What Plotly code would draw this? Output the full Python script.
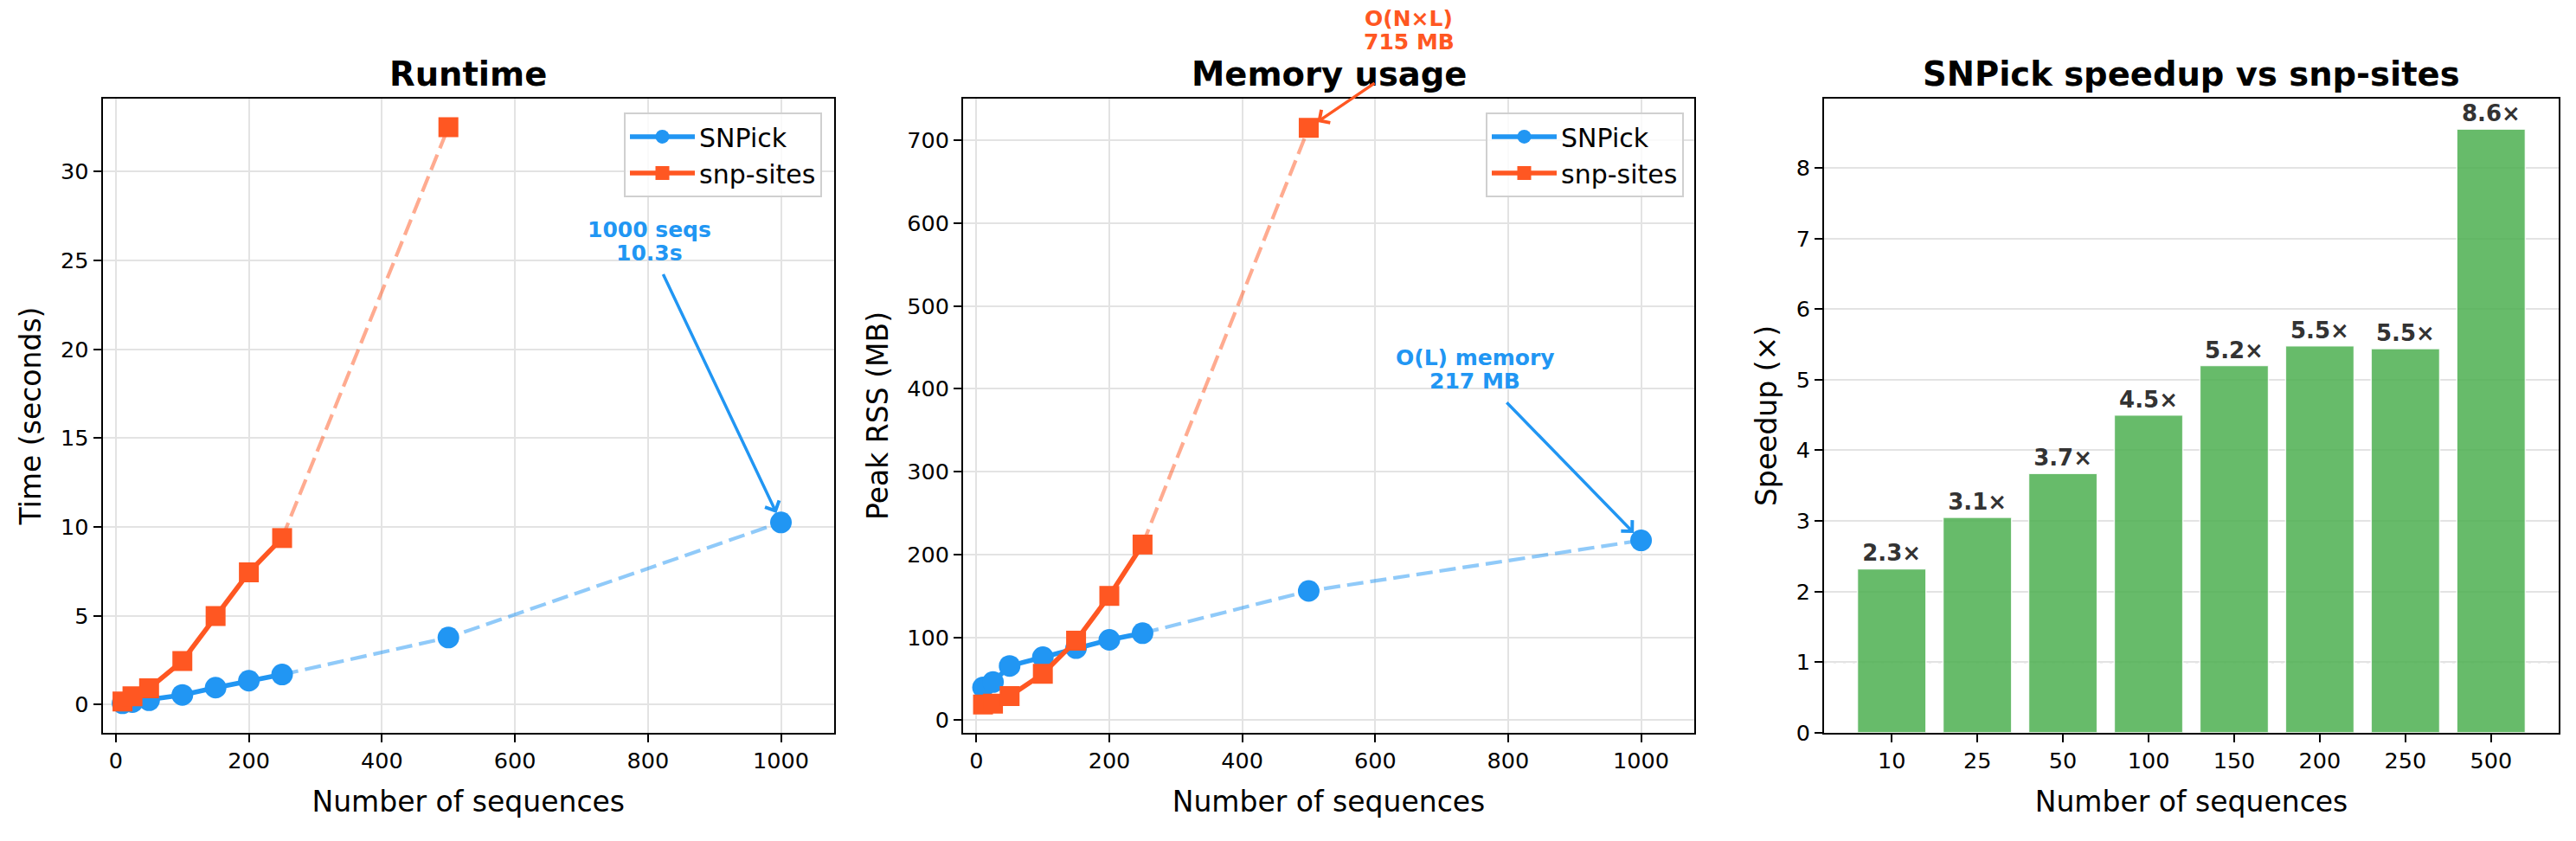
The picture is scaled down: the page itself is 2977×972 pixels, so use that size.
import plotly.graph_objects as go

# ---------------- data ----------------
n_snpick = [10, 25, 50, 100, 150, 200, 250, 500, 1000]
snpick_time = [0.08, 0.15, 0.25, 0.55, 0.96, 1.35, 1.70, 3.78, 10.26]
snpick_mem = [39.5, 46, 65.5, 76, 87, 97, 105, 156, 217]

n_snpsites = [10, 25, 50, 100, 150, 200, 250, 500]
snpsites_time = [0.18, 0.47, 0.92, 2.46, 4.99, 7.45, 9.38, 32.5]
snpsites_mem = [19, 20, 29, 56, 96, 150, 212, 715]

speed_cats = ["10", "25", "50", "100", "150", "200", "250", "500"]
speedup = [2.32, 3.05, 3.67, 4.50, 5.20, 5.48, 5.44, 8.55]
speedup_labels = ["2.3×", "3.1×", "3.7×", "4.5×", "5.2×", "5.5×", "5.5×", "8.6×"]

SOLID_MAX = 250  # measured points (solid); beyond are extrapolated (dashed)

BLUE = "#2196F3"
ORANGE = "#FF5722"
BLUE_L = "rgba(33,150,243,0.5)"
ORANGE_L = "rgba(255,87,34,0.5)"
GREEN = "rgba(76,175,80,0.85)"
FONT = "DejaVu Sans"

W, H = 2977, 972
fig = go.Figure()


def split(xs, ys):
    k = sum(1 for v in xs if v <= SOLID_MAX)
    return xs[:k], ys[:k], xs[k - 1:], ys[k - 1:], xs[k:], ys[k:]


def add_series(xs, ys, color, light, symbol, msize, name, xa, ya, legend):
    sx, sy, dx, dy, mx, my = split(xs, ys)
    fig.add_trace(go.Scatter(x=dx, y=dy, mode="lines", xaxis=xa, yaxis=ya,
                             line=dict(color=light, width=4.2, dash="19px,8px"),
                             showlegend=False, hoverinfo="skip"))
    fig.add_trace(go.Scatter(x=sx, y=sy, mode="lines+markers", name=name, xaxis=xa, yaxis=ya,
                             line=dict(color=color, width=5.6),
                             marker=dict(symbol=symbol, size=msize, color=color, line=dict(width=0)),
                             legend=legend, showlegend=True))
    fig.add_trace(go.Scatter(x=mx, y=my, mode="markers", xaxis=xa, yaxis=ya,
                             marker=dict(symbol=symbol, size=msize, color=color, line=dict(width=0)),
                             showlegend=False))


# Panel 1: runtime
add_series(n_snpick, snpick_time, BLUE, BLUE_L, "circle", 25, "SNPick", "x", "y", "legend")
add_series(n_snpsites, snpsites_time, ORANGE, ORANGE_L, "square", 23, "snp-sites", "x", "y", "legend")
# Panel 2: memory
add_series(n_snpick, snpick_mem, BLUE, BLUE_L, "circle", 25, "SNPick", "x2", "y2", "legend2")
add_series(n_snpsites, snpsites_mem, ORANGE, ORANGE_L, "square", 23, "snp-sites", "x2", "y2", "legend2")

# Panel 3: speedup bars
fig.add_trace(go.Bar(x=speed_cats, y=speedup, xaxis="x3", yaxis="y3", width=0.8,
                     marker=dict(color=GREEN, line=dict(color="rgba(255,255,255,0.85)", width=1.5)),
                     text=speedup_labels, textposition="outside", cliponaxis=False,
                     constraintext="none",
                     textfont=dict(family=FONT, size=26, color="#333333", weight="bold"),
                     showlegend=False))

# ---------------- layout ----------------
px = lambda v: v / W
py = lambda v: 1 - v / H
ydom = [py(860), py(116)]
doms = [[px(118.5), px(964)], [px(1113), px(1958)], [px(2108), px(2957)]]

axis_common = dict(showline=True, mirror=True, linecolor="black", linewidth=2,
                   ticks="outside", ticklen=9, tickwidth=1.6, tickcolor="black",
                   tickfont=dict(family=FONT, size=25.5, color="black"),
                   gridcolor="#e3e3e3", gridwidth=1.5, zeroline=False)
title_font = dict(family=FONT, size=33, color="black")
leg_common = dict(xanchor="right", yanchor="top", bgcolor="rgba(255,255,255,0.8)",
                  bordercolor="#d0d0d0", borderwidth=2, itemwidth=75, tracegroupgap=0,
                  font=dict(family=FONT, size=30, color="black"))

Y1 = [-1.57, 34.1]
Y2 = [-15, 750]
XSTAND = 22
layout = dict(
    width=W, height=H, margin=dict(l=0, r=0, t=0, b=0),
    paper_bgcolor="white", plot_bgcolor="white",
    font=dict(family=FONT, color="black"),
    xaxis=dict(domain=doms[0], anchor="y", range=[-20, 1080], tickvals=[0, 200, 400, 600, 800, 1000],
               title=dict(text="Number of sequences", font=title_font, standoff=XSTAND), **axis_common),
    yaxis=dict(domain=ydom, anchor="x", range=Y1, tickvals=[0, 5, 10, 15, 20, 25, 30],
               title=dict(text="Time (seconds)", font=title_font, standoff=12), **axis_common),
    xaxis2=dict(domain=doms[1], anchor="y2", range=[-20, 1080], tickvals=[0, 200, 400, 600, 800, 1000],
                title=dict(text="Number of sequences", font=title_font, standoff=XSTAND), **axis_common),
    yaxis2=dict(domain=ydom, anchor="x2", range=Y2, tickvals=[0, 100, 200, 300, 400, 500, 600, 700],
                title=dict(text="Peak RSS (MB)", font=title_font, standoff=12), **axis_common),
    xaxis3=dict(domain=doms[2], anchor="y3", type="category", range=[-0.79, 7.79],
                title=dict(text="Number of sequences", font=title_font, standoff=XSTAND),
                **{**axis_common, "showgrid": False}),
    yaxis3=dict(domain=ydom, anchor="x3", range=[0, 8.98], tickvals=[0, 1, 2, 3, 4, 5, 6, 7, 8],
                title=dict(text="Speedup (×)", font=title_font, standoff=12), **axis_common),
    legend=dict(x=px(950), y=py(132), **leg_common),
    legend2=dict(x=px(1946), y=py(132), **leg_common),
)
fig.update_layout(**layout)

# reference line at speedup = 1
fig.add_shape(type="line", xref="x3 domain", yref="y3", x0=0, x1=1, y0=1, y1=1,
              line=dict(color="rgba(128,128,128,0.5)", width=2, dash="3px,8px"), layer="below")

# panel titles
titles = ["Runtime", "Memory usage", "SNPick speedup vs snp-sites"]
for t, d in zip(titles, doms):
    fig.add_annotation(text=t, xref="paper", yref="paper", x=(d[0] + d[1]) / 2, y=py(87),
                       xanchor="center", yanchor="middle", showarrow=False,
                       font=dict(family=FONT, size=38.5, color="black", weight="bold"))

# callouts (each line placed separately to match the tighter line spacing)
ann_font = lambda c: dict(family=FONT, size=25, color=c, weight="bold")
frac2 = lambda v: (v - Y2[0]) / (Y2[1] - Y2[0])


def callout(lines, xref, yref, x, ys, color):
    for txt, yv in zip(lines, ys):
        fig.add_annotation(xref=xref, yref=yref, x=x, y=yv, text=txt, showarrow=False,
                           font=ann_font(color), xanchor="center", yanchor="middle")


callout(["1000 seqs", "10.3s"], "x", "y", 802, [26.74, 25.40], BLUE)
fig.add_annotation(xref="x", yref="y", axref="x", ayref="y", x=n_snpick[-1], y=snpick_time[-1],
                   ax=822, ay=24.3, text="", showarrow=True, arrowhead=4, arrowsize=1,
                   arrowwidth=3.5, arrowcolor=BLUE, standoff=12)

# text sits above the plot area -> position it in axis-domain units so it is not hidden
callout(["O(N×L)", "715 MB"], "x2", "y2 domain", 651, [frac2(847), frac2(819)], ORANGE)
fig.add_annotation(xref="x2", yref="y2", axref="x2", ayref="y2", x=n_snpsites[-1], y=snpsites_mem[-1],
                   ax=601, ay=770, text="", showarrow=True, arrowhead=4, arrowsize=1,
                   arrowwidth=3.5, arrowcolor=ORANGE, standoff=12)

callout(["O(L) memory", "217 MB"], "x2", "y2", 750, [437.3, 409.3], BLUE)
fig.add_annotation(xref="x2", yref="y2", axref="x2", ayref="y2", x=n_snpick[-1], y=snpick_mem[-1],
                   ax=796, ay=385, text="", showarrow=True, arrowhead=4, arrowsize=1,
                   arrowwidth=3.5, arrowcolor=BLUE, standoff=12)

fig.write_html("out.html")
